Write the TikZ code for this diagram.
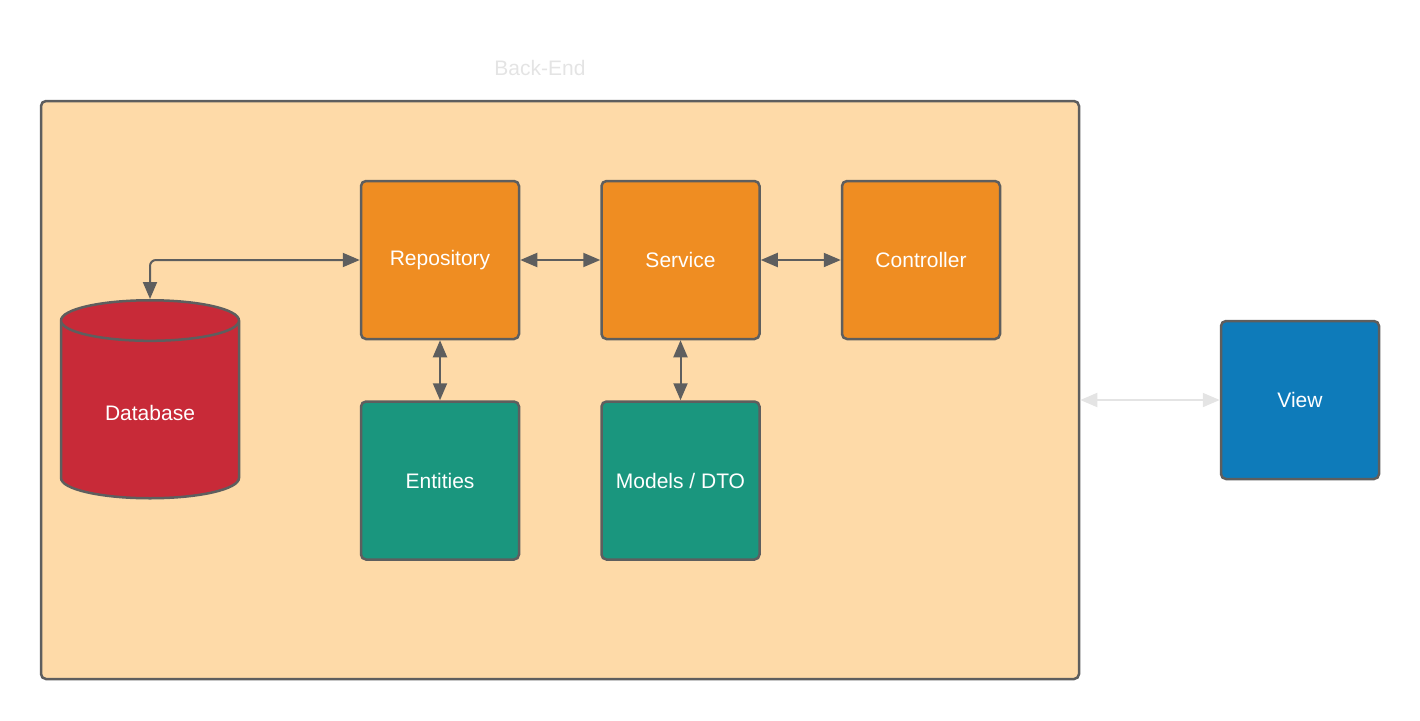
\documentclass[tikz,border=0pt]{standalone}
\usepackage{fontspec}
\setmainfont{Liberation Sans}
\usetikzlibrary{positioning,arrows.meta,shapes.geometric}
\definecolor{peach}{HTML}{FEDAA8}
\definecolor{layerorange}{HTML}{EF8D22}
\definecolor{layerteal}{HTML}{1A967E}
\definecolor{dbred}{HTML}{C82A38}
\definecolor{viewblue}{HTML}{0E7BBA}
\definecolor{edgegray}{HTML}{5E5E5E}
\definecolor{labelgray}{HTML}{E4E4E4}

\begin{document}
\begin{tikzpicture}[
    x=1pt, y=-1pt,
    block/.style={draw=edgegray, line width=2.5pt, rounded corners=5pt, minimum size=158pt,
        text=white, font=\fontsize{21}{25}\selectfont, fill=layerorange},
    arrow/.style={{Triangle[length=17pt,width=14pt]}-{Triangle[length=17pt,width=14pt]}, line width=2pt, draw=edgegray},
    node distance=80pt
]
\useasboundingbox (0,0) rectangle (1420,720);

% Back-end container
\node[draw=edgegray, line width=2.5pt, rounded corners=5pt, fill=peach,
      minimum width=1038pt, minimum height=578pt] (backend) at (560,390) {};
\node[text=labelgray, font=\fontsize{21}{25}\selectfont] (title) at (540,68) {Back-End};

% Layers
\node[block] (repo) at (440,260) {Repository};
\node[block, right=of repo] (service) {Service};
\node[block, right=of service] (controller) {Controller};
\node[block, below=60pt of repo, fill=layerteal] (entities) {Entities};
\node[block, below=60pt of service, fill=layerteal] (models) {Models / DTO};

% Storage and client
\node[cylinder, shape border rotate=90, aspect=0.42, draw=edgegray, line width=2.5pt, fill=dbred,
      minimum width=178pt, minimum height=198pt, text=white, anchor=north,
      font=\fontsize{21}{25}\selectfont] (db) at (150,299) {Database};
\node[block, fill=viewblue] (view) at (1300,400) {View};

% Arrows
\draw[arrow, rounded corners=6pt] (db.north) |- (repo.west);
\draw[arrow] (repo) -- (service);
\draw[arrow] (service) -- (controller);
\draw[arrow] (repo) -- (entities);
\draw[arrow] (service) -- (models);
\draw[arrow, draw=labelgray, fill=labelgray] (backend.east |- view.west) -- (view.west);
\end{tikzpicture}
\end{document}
